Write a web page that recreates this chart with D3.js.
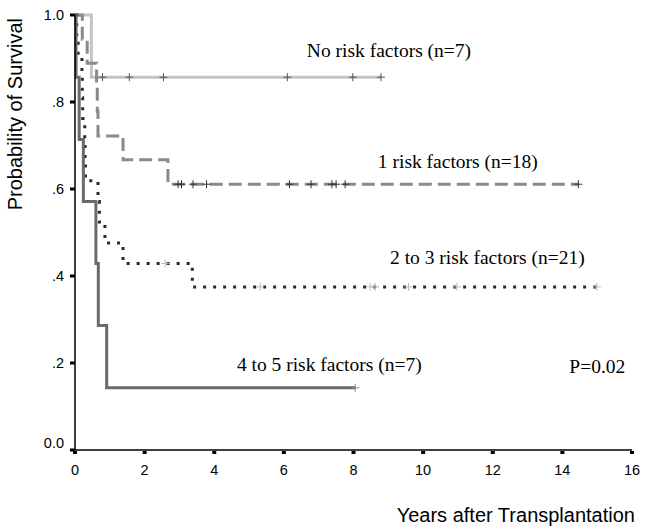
<!DOCTYPE html>
<html>
<head>
<meta charset="UTF-8">
<script src="https://d3js.org/d3.v7.min.js"></script>
<style>
  body { margin: 0; background: #fff; }
  svg { display: block; }
  .tick-lab { font-family: "Liberation Sans", Arial, sans-serif; font-size: 14.5px; fill: #000; }
  .ax-title { font-family: "Liberation Sans", Arial, sans-serif; font-size: 20px; fill: #000; }
  .grp-lab { font-family: "Liberation Serif", "Times New Roman", serif; font-size: 19.5px; fill: #000; }
</style>
</head>
<body>
<svg id="chart" width="648" height="529"></svg>
<script>
// Kaplan-Meier steps (years, survival)
const noRiskT = [0, 0.47];
const noRiskS = [1, 0.857];
const noRiskEnd = 8.79;
const noRiskCens = [0.79, 1.56, 2.54, 6.10, 7.98, 8.79];

const oneRiskT = [0, 0.21, 0.35, 0.62, 0.64, 0.66, 1.38, 2.67];
const oneRiskS = [1, 0.944, 0.889, 0.833, 0.778, 0.722, 0.667, 0.611];
const oneRiskEnd = 14.46;
const oneRiskCens = [2.96, 3.06, 3.39, 3.78, 6.16, 6.78, 7.38, 7.50, 7.76, 14.46];

const twoRiskT = [0, 0.05, 0.09, 0.2, 0.21, 0.22, 0.28, 0.29, 0.3, 0.66, 0.7, 0.86, 1.38, 3.37];
const twoRiskS = [1, 0.952, 0.905, 0.857, 0.810, 0.762, 0.714, 0.667, 0.619, 0.571, 0.524, 0.476, 0.429, 0.375];
const twoRiskEnd = 15.0;
const twoRiskCens = [2.59, 5.32, 8.48, 8.62, 9.58, 10.97, 14.99];

const fourRiskT = [0, 0.03, 0.12, 0.24, 0.6, 0.67, 0.91];
const fourRiskS = [1, 0.857, 0.714, 0.571, 0.429, 0.286, 0.143];
const fourRiskEnd = 8.05;
const fourRiskCens = [8.05];

const xTicks = [0, 2, 4, 6, 8, 10, 12, 14, 16];
const yTicks = [0, 0.2, 0.4, 0.6, 0.8, 1.0];
const yTickLabels = ["0.0", ".2", ".4", ".6", ".8", "1.0"];

const svg = d3.select("#chart");

const x = d3.scaleLinear().domain([0, 16]).range([75, 632]);
const y = d3.scaleLinear().domain([0, 1]).range([450, 15]);

const series = [
  {T: noRiskT, S: noRiskS, end: noRiskEnd, cens: noRiskCens, color: "#c4c4c4", dash: null, cColor: "#555",
   label: "No risk factors (n=7)", lx: 6.66, ly: 0.903},
  {T: oneRiskT, S: oneRiskS, end: oneRiskEnd, cens: oneRiskCens, color: "#8a8a8a", dash: "13,6", cColor: "#333",
   label: "1 risk factors (n=18)", lx: 8.70, ly: 0.648},
  {T: twoRiskT, S: twoRiskS, end: twoRiskEnd, cens: twoRiskCens, color: "#2a2a2a", dash: "3,7", cColor: "#bbb",
   label: "2 to 3 risk factors (n=21)", lx: 9.05, ly: 0.428},
  {T: fourRiskT, S: fourRiskS, end: fourRiskEnd, cens: fourRiskCens, color: "#6a6a6a", dash: null, cColor: "#888",
   label: "4 to 5 risk factors (n=7)", lx: 4.65, ly: 0.182}
];

function pts(s) {
  const p = s.T.map((t, i) => [t, s.S[i]]);
  p.push([s.end, s.S[s.S.length - 1]]);
  return p;
}
function survAt(s, t) {
  let v = s.S[0];
  s.T.forEach((tt, i) => { if (tt <= t) v = s.S[i]; });
  return v;
}

const line = d3.line()
  .x(d => x(d[0]))
  .y(d => y(d[1]))
  .curve(d3.curveStepAfter);

// curves
svg.append("g")
  .selectAll("path")
  .data(series)
  .join("path")
  .attr("fill", "none")
  .attr("stroke", d => d.color)
  .attr("stroke-width", 3)
  .attr("stroke-dasharray", d => d.dash)
  .attr("d", d => line(pts(d)));

// censor marks
series.forEach(s => {
  svg.append("g")
    .attr("stroke", s.cColor)
    .attr("stroke-width", 1)
    .selectAll("path")
    .data(s.cens)
    .join("path")
    .attr("d", t => {
      const cx = x(t), cy = y(survAt(s, t));
      return `M${cx - 4},${cy}H${cx + 4}M${cx},${cy - 4}V${cy + 4}`;
    });
});

// group labels
svg.append("g")
  .selectAll("text")
  .data(series)
  .join("text")
  .attr("class", "grp-lab")
  .attr("x", d => x(d.lx))
  .attr("y", d => y(d.ly))
  .text(d => d.label);

svg.append("text")
  .attr("class", "grp-lab")
  .attr("x", x(14.2))
  .attr("y", y(0.177))
  .text("P=0.02");

// axes
const xAxis = svg.append("g").attr("transform", `translate(0,${y(0)})`);
xAxis.append("line")
  .attr("x1", x(0)).attr("x2", x(16))
  .attr("stroke", "#000").attr("stroke-width", 1.5);
xAxis.selectAll("rect")
  .data(xTicks)
  .join("rect")
  .attr("x", d => x(d) - 2).attr("y", 1)
  .attr("width", 4).attr("height", 3)
  .attr("fill", "#000");
xAxis.selectAll("text")
  .data(xTicks)
  .join("text")
  .attr("class", "tick-lab")
  .attr("x", d => x(d))
  .attr("y", 25)
  .attr("text-anchor", "middle")
  .text(d => d);

const yAxis = svg.append("g").attr("transform", `translate(${x(0)},0)`);
yAxis.append("line")
  .attr("y1", y(0)).attr("y2", y(1))
  .attr("stroke", "#000").attr("stroke-width", 1.5);
yAxis.selectAll("rect")
  .data(yTicks)
  .join("rect")
  .attr("x", -5).attr("y", d => y(d) - 1.5)
  .attr("width", 5).attr("height", 3)
  .attr("fill", "#000");
yAxis.selectAll("text")
  .data(yTicks)
  .join("text")
  .attr("class", "tick-lab")
  .attr("x", -11)
  .attr("y", d => y(d) + (d === 0 ? -2 : 5))
  .attr("text-anchor", "end")
  .text((d, i) => yTickLabels[i]);

svg.append("text")
  .attr("class", "ax-title")
  .attr("transform", `translate(22,${y(0.772)}) rotate(-90)`)
  .attr("text-anchor", "middle")
  .text("Probability of Survival");

svg.append("text")
  .attr("class", "ax-title")
  .attr("x", x(16) + 3)
  .attr("y", 522)
  .attr("text-anchor", "end")
  .text("Years after Transplantation");
</script>
</body>
</html>
